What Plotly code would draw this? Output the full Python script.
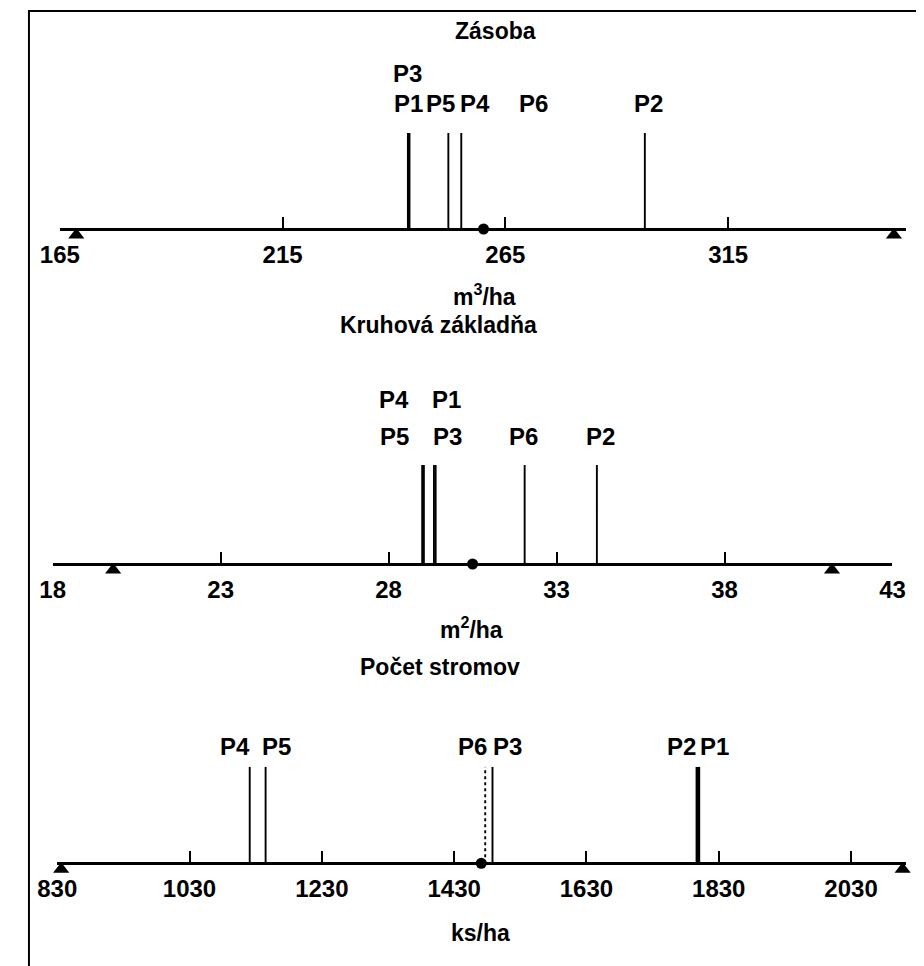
import plotly.graph_objects as go

# ---------------- data ----------------
labels = ["P1", "P2", "P3", "P4", "P5", "P6"]

zasoba_values = [243.2, 296.3, 243.4, 255.1, 252.2, 271.3]
zasoba_mean = 260.1
zasoba_limits = [168.7, 352.2]
zasoba_ticks = [165, 215, 265, 315]

kruh_values = [29.35, 34.2, 29.4, 29.0, 29.05, 32.05]
kruh_mean = 30.5
kruh_limits = [19.8, 41.2]
kruh_ticks = [18, 23, 28, 33, 38, 43]

pocet_values = [1800, 1797, 1488, 1121, 1145, 1477]
pocet_mean = 1471
pocet_limits = [836, 2108]
pocet_ticks = [830, 1030, 1230, 1430, 1630, 1830, 2030]

titles = ["Zásoba", "Kruhová základňa", "Počet stromov"]
units = ["m<sup>3</sup>/ha", "m<sup>2</sup>/ha", "ks/ha"]

# ---------------- layout helpers ----------------
W, H = 924, 966
OFF = 8  # default page body margin
def fx(p):
    return (p - OFF) / W
def fy(p):
    return 1 - (p - OFF) / H

FONT = "Liberation Sans, Arial, sans-serif"
BELOW = 18  # px of plot area kept below each axis line (for the triangles)

panels = [
    dict(values=zasoba_values, mean=zasoba_mean, limits=zasoba_limits, ticks=zasoba_ticks,
         xdom=(41, 918), axis_y=229, top_y=133, xrange=(165, 354.8),
         title_xy=(493, 31), unit_xy=(481, 295),
         label_rows=[104, 73],
         label_row={"P1": 0, "P2": 0, "P3": 1, "P4": 0, "P5": 0, "P6": 0},
         label_shift={"P1": 0, "P2": 4, "P3": -2, "P4": 14, "P5": -8, "P6": 0},
         hidden={"P6"}, dotted=set(), widths={"P1": 2.6, "P3": 2.6}),
    dict(values=kruh_values, mean=kruh_mean, limits=kruh_limits, ticks=kruh_ticks,
         xdom=(33.6, 904.5), axis_y=564, top_y=465, xrange=(18, 43),
         title_xy=(434, 325), unit_xy=(468, 628),
         label_rows=[436, 399],
         label_row={"P1": 1, "P2": 0, "P3": 0, "P4": 1, "P5": 0, "P6": 0},
         label_shift={"P1": 13, "P2": 4, "P3": 12, "P4": -28, "P5": -29, "P6": -1},
         hidden=set(), dotted=set(), widths={}),
    dict(values=pocet_values, mean=pocet_mean, limits=pocet_limits, ticks=pocet_ticks,
         xdom=(38.3, 919), axis_y=863.3, top_y=766.7, xrange=(830, 2113.8),
         title_xy=(435, 667), unit_xy=(477, 933),
         label_rows=[746, 716],
         label_row={k: 0 for k in labels},
         label_shift={"P1": 16, "P2": -15, "P3": 15, "P4": -15, "P5": 11, "P6": -13},
         hidden=set(), dotted={"P6"}, widths={"P1": 2.6, "P2": 2.6}),
]

fig = go.Figure()
annotations = []
layout_axes = {}

for i, p in enumerate(panels):
    n = "" if i == 0 else str(i + 1)
    xa, ya = "x" + n, "y" + n
    span = p["axis_y"] - p["top_y"]
    # stems and their labels
    for lab, v in zip(labels, p["values"]):
        if lab not in p["hidden"]:
            fig.add_trace(go.Scatter(
                x=[v, v], y=[0, 1], mode="lines", xaxis=xa, yaxis=ya,
                line=dict(color="black", width=p["widths"].get(lab, 1.9),
                          dash="dot" if lab in p["dotted"] else "solid"),
                showlegend=False, hoverinfo="skip"))
        annotations.append(dict(
            x=v, xref=xa, y=fy(p["label_rows"][p["label_row"][lab]]), yref="paper",
            text=lab, showarrow=False, xshift=p["label_shift"][lab],
            xanchor="center", yanchor="middle",
            font=dict(family=FONT, size=24, color="black", weight="bold")))
    # limits (triangles, apex on the axis line)
    fig.add_trace(go.Scatter(
        x=p["limits"], y=[-6.0 / span] * len(p["limits"]), mode="markers",
        xaxis=xa, yaxis=ya,
        marker=dict(symbol="triangle-up", size=14, color="black"),
        cliponaxis=False, showlegend=False, hoverinfo="skip"))
    # mean (circle)
    fig.add_trace(go.Scatter(
        x=[p["mean"]], y=[0], mode="markers", xaxis=xa, yaxis=ya,
        marker=dict(symbol="circle", size=11, color="black"),
        cliponaxis=False, showlegend=False, hoverinfo="skip"))

    layout_axes["xaxis" + n] = dict(
        domain=[fx(p["xdom"][0]), fx(p["xdom"][1])], range=list(p["xrange"]),
        anchor="free", position=fy(p["axis_y"]), side="bottom",
        showline=True, linecolor="black", linewidth=2.8,
        ticks="inside", ticklen=11, tickwidth=1.5, tickcolor="black",
        tickvals=p["ticks"], ticktext=[str(t) for t in p["ticks"]],
        tickfont=dict(family=FONT, size=24, color="black", weight="bold"),
        ticklabelstandoff=3,
        showgrid=False, zeroline=False, fixedrange=True)
    layout_axes["yaxis" + n] = dict(
        domain=[fy(p["axis_y"] + BELOW), fy(p["top_y"])], range=[-BELOW / span, 1],
        anchor=xa, visible=False, fixedrange=True)

    annotations.append(dict(
        x=fx(p["title_xy"][0]), y=fy(p["title_xy"][1]), xref="paper", yref="paper",
        text=titles[i], showarrow=False, xanchor="center", yanchor="middle",
        font=dict(family=FONT, size=23, color="black", weight="bold")))
    annotations.append(dict(
        x=fx(p["unit_xy"][0]), y=fy(p["unit_xy"][1]), xref="paper", yref="paper",
        text=units[i], showarrow=False, xanchor="center", yanchor="middle",
        font=dict(family=FONT, size=23, color="black", weight="bold")))

fig.update_layout(
    width=W, height=H, margin=dict(l=0, r=0, t=0, b=0),
    paper_bgcolor="white", plot_bgcolor="white",
    annotations=annotations,
    shapes=[dict(type="rect", xref="paper", yref="paper",
                 x0=fx(9), x1=fx(945), y0=fy(990), y1=fy(11),
                 line=dict(color="black", width=2), fillcolor="rgba(0,0,0,0)")],
    **layout_axes)

fig.write_html("out.html")
